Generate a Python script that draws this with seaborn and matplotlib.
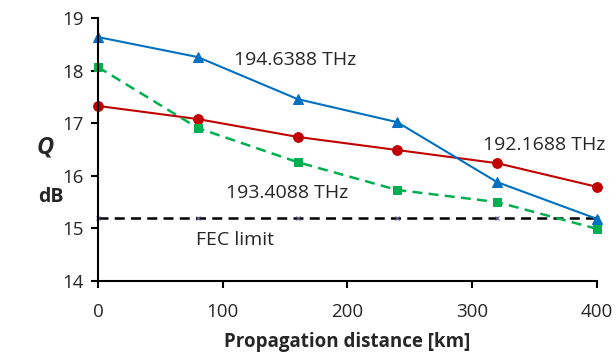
import matplotlib
matplotlib.use("Agg")
import matplotlib.pyplot as plt
import seaborn as sns
import pandas as pd

distance = [0, 80, 160, 240, 320, 400]
q_194 = [18.64, 18.26, 17.46, 17.02, 15.88, 15.18]
q_192 = [17.33, 17.08, 16.74, 16.49, 16.24, 15.79]
q_193 = [18.07, 16.91, 16.26, 15.73, 15.50, 14.99]
fec = [15.2, 15.2, 15.2, 15.2, 15.2, 15.2]

sns.set_style("white")
plt.rcParams['font.family'] = ['Open Sans', 'DejaVu Sans']

fig = plt.figure(figsize=(6.16, 3.56), dpi=100)
ax = fig.add_axes([0.159, 0.211, 0.81, 0.738])

df = pd.DataFrame({"d": distance, "a": q_194, "b": q_192, "c": q_193, "f": fec})
sns.lineplot(data=df, x="d", y="f", ax=ax, color="black", linestyle=(0, (4, 2.5)), lw=1.8,
             marker="x", markersize=3, markeredgecolor="#7060A0", markeredgewidth=0.8)
sns.lineplot(data=df, x="d", y="b", ax=ax, color="#C00000", lw=1.5, marker="o",
             markersize=7, markeredgecolor="#C00000")
sns.lineplot(data=df, x="d", y="c", ax=ax, color="#00B050", lw=1.8, linestyle=(0, (4, 2.5)),
             marker="s", markersize=6, markeredgecolor="#00B050")
sns.lineplot(data=df, x="d", y="a", ax=ax, color="#0070C0", lw=1.5, marker="^",
             markersize=7, markeredgecolor="#0070C0")

ax.set_xlim(0, 400)
ax.set_ylim(14, 19)
ax.set_xticks([0, 100, 200, 300, 400])
ax.set_yticks([14, 15, 16, 17, 18, 19])
ax.tick_params(axis="both", labelsize=13.5, direction="out", length=5, width=1.5, color="black",
               bottom=True, left=True)
ax.tick_params(axis="x", pad=11)
ax.tick_params(axis="y", pad=5)
for s in ["top", "right"]:
    ax.spines[s].set_visible(False)
for s in ["left", "bottom"]:
    ax.spines[s].set_color("black")
    ax.spines[s].set_linewidth(1.5)
ax.set_xlabel("Propagation distance [km]", fontsize=13.5, fontweight="bold", labelpad=8)
ax.set_ylabel("")
for l in ax.lines:
    l.set_clip_on(False)

fig.text(0.073, 0.585, "Q", fontsize=17, fontweight="bold", style="italic", ha="center", va="center")
fig.text(0.082, 0.447, "dB", fontsize=14, fontweight="bold", ha="center", va="center")

ax.text(158, 18.2, "194.6388 THz", fontsize=14, ha="center", va="center")
ax.text(358, 16.59, "192.1688 THz", fontsize=14, ha="center", va="center")
ax.text(152, 15.67, "193.4088 THz", fontsize=14, ha="center", va="center")
ax.text(110, 14.78, "FEC limit", fontsize=14, ha="center", va="center")

fig.savefig("out.png", dpi=100)
